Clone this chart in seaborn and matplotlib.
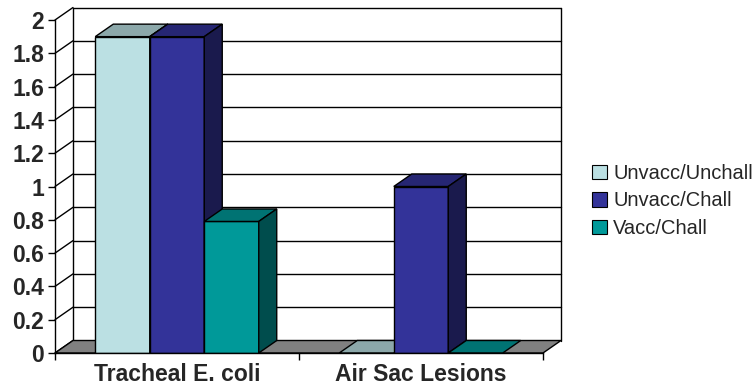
import numpy as np
import pandas as pd
import matplotlib
matplotlib.use("Agg")
import matplotlib.pyplot as plt
from matplotlib.patches import Polygon, Patch, Rectangle
import matplotlib.colors as mcolors
import seaborn as sns

# Data
categories = ["Tracheal E. coli", "Air Sac Lesions"]
groups = ["Unvacc/Unchall", "Unvacc/Chall", "Vacc/Chall"]
unvacc_unchall = [1.9, 0.0]
unvacc_chall = [1.9, 1.0]
vacc_chall = [0.79, 0.0]
y_ticks = [0, 0.2, 0.4, 0.6, 0.8, 1.0, 1.2, 1.4, 1.6, 1.8, 2.0]
y_tick_labels = ["0", "0.2", "0.4", "0.6", "0.8", "1", "1.2", "1.4", "1.6", "1.8", "2"]
colors = ["#BBE0E3", "#333399", "#009999"]

sns.set_theme(style="white")
plt.rcParams["font.family"] = ["Liberation Sans", "DejaVu Sans"]

df = pd.DataFrame({
    "category": categories * 3,
    "group": np.repeat(groups, len(categories)),
    "value": unvacc_unchall + unvacc_chall + vacc_chall,
})

W, H = 756, 387
fig = plt.figure(figsize=(W / 100, H / 100), dpi=100)

# pixel scales and 3-D depth offset
PXX, PXY = 244.0, 166.5
DX, DY = 18 / PXX, 12.5 / PXY
x0, x1 = -0.5, 1.5
ymax = 2.0

ax = fig.add_axes([55 / W, 34 / H, (x1 - x0 + DX) * PXX / W, (ymax + DY) * PXY / H])

sns.barplot(data=df, x="category", y="value", hue="group", order=categories,
            hue_order=groups, palette=colors, saturation=1, width=0.67,
            edgecolor="black", linewidth=1, legend=False, ax=ax)
bars = sorted([p for p in ax.patches if isinstance(p, Rectangle)], key=lambda p: p.get_x())

ax.set_xlim(x0, x1 + DX)
ax.set_ylim(0, ymax + DY)

# floor
ax.add_patch(Polygon([(x0, 0), (x1, 0), (x1 + DX, DY), (x0 + DX, DY)],
                     closed=True, facecolor="#808080", edgecolor="black",
                     lw=1, zorder=1.5, clip_on=False))

# back wall grid and side wall
lkw = dict(color="black", lw=1, clip_on=False, zorder=1)
for v in y_ticks[1:]:
    ax.plot([x0 + DX, x1 + DX], [v + DY, v + DY], **lkw)
for v in y_ticks:
    ax.plot([x0, x0 + DX], [v, v + DY], **lkw)
ax.plot([x0 + DX, x0 + DX], [DY, ymax + DY], **lkw)
ax.plot([x1 + DX, x1 + DX], [DY, ymax + DY], **lkw)


def shade(c, f):
    r, g, b, _ = mcolors.to_rgba(c)
    return (r * f, g * f, b * f)


# extrude each bar: top and right side faces
for i, p in enumerate(bars):
    z = 3 + i * 0.1
    x, w, h = p.get_x(), p.get_width(), p.get_height()
    fc = p.get_facecolor()
    p.set_zorder(z)
    ax.add_patch(Polygon([(x, h), (x + w, h), (x + w + DX, h + DY), (x + DX, h + DY)],
                         closed=True, facecolor=shade(fc, 0.75), edgecolor="black",
                         lw=1, zorder=z + 0.01))
    if h > 0:
        ax.add_patch(Polygon([(x + w, 0), (x + w + DX, DY), (x + w + DX, h + DY), (x + w, h)],
                             closed=True, facecolor=shade(fc, 0.5), edgecolor="black",
                             lw=1, zorder=z + 0.02))

# axes
for s in ["top", "right"]:
    ax.spines[s].set_visible(False)
ax.spines["left"].set_bounds(0, ymax)
ax.spines["bottom"].set_bounds(x0, x1)
for s in ["left", "bottom"]:
    ax.spines[s].set_color("black")
    ax.spines[s].set_linewidth(1)
    ax.spines[s].set_zorder(10)

ax.set_yticks(y_ticks, y_tick_labels)
ax.set_xticks([0, 1], categories)
ax.set_xticks([x0, 0.5, x1], minor=True)
ax.tick_params(axis="y", which="major", left=True, length=5, width=1, color="black",
               pad=3, labelsize=16.5)
ax.tick_params(axis="x", which="major", bottom=False, length=0, pad=7, labelsize=16.5)
ax.tick_params(axis="x", which="minor", bottom=True, length=5, width=1, color="black")
for t in ax.get_yticklabels() + ax.get_xticklabels():
    t.set_fontweight("bold")
ax.set_xlabel("")
ax.set_ylabel("")
ax.grid(False)
ax.patch.set_alpha(0)

handles = [Patch(facecolor=c, edgecolor="black", lw=0.8) for c in colors]
fig.legend(handles, groups, loc="upper left", bbox_to_anchor=(592 / W, 1 - 164 / H),
           frameon=False, fontsize=14.5, handlelength=0.75, handleheight=0.75,
           handletextpad=0.3, labelspacing=0.42, borderpad=0, borderaxespad=0)

fig.savefig("out.png", dpi=100)
